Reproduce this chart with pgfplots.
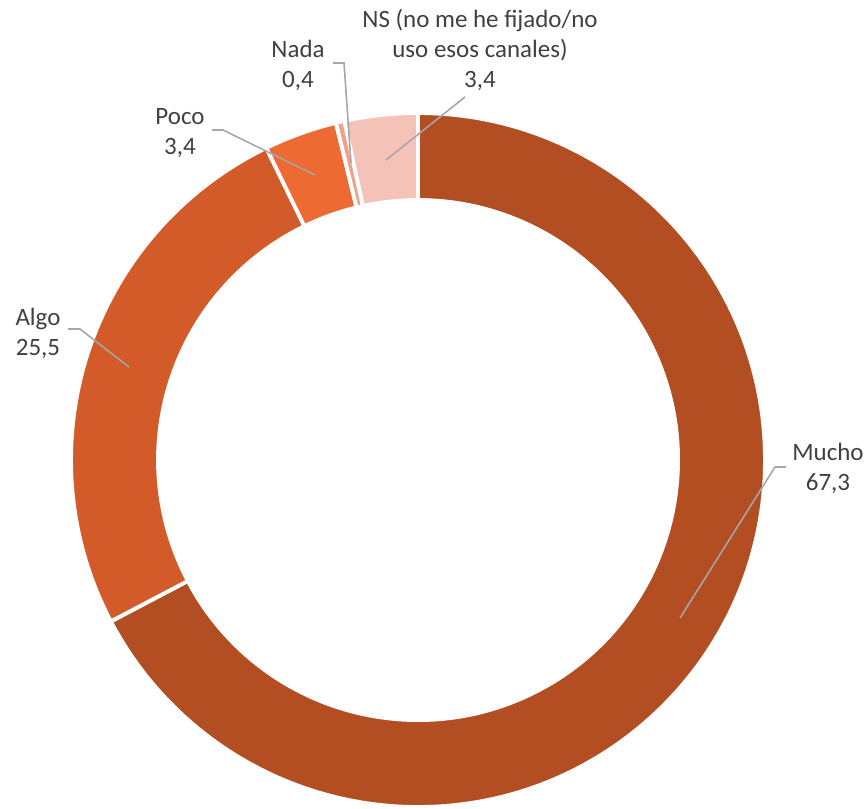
\documentclass[border=0pt]{standalone}
\usepackage{pgfplots}
\pgfplotsset{compat=1.18}
\usepackage{fontspec}
\setmainfont{Carlito}
\definecolor{cMucho}{HTML}{B24E22}
\definecolor{cAlgo}{HTML}{D35A29}
\definecolor{cPoco}{HTML}{ED6A33}
\definecolor{cNada}{HTML}{F2A08A}
\definecolor{cNS}{HTML}{F5C2B8}
\definecolor{txt}{HTML}{404040}
\definecolor{lead}{HTML}{A6A6A6}
\pgfplotsset{base/.style={width=8.66cm,height=8.04cm,scale only axis,
  xmin=0,xmax=866,ymin=0,ymax=804,hide axis,clip=false}}
\begin{document}
\begin{tikzpicture}
\begin{axis}[base]
\coordinate (C) at (axis cs:418,344);
\path (axis cs:0,0) rectangle (axis cs:866,804);
\end{axis}
% donut slices from data (percent), clockwise from 12 o'clock
\begin{scope}[shift={(C)}]
\gdef\angA{90}
\foreach \v/\c in {67.3/cMucho,25.5/cAlgo,3.4/cPoco,0.4/cNada,3.4/cNS}{
  \pgfmathsetmacro\angB{\angA-3.6*\v}
  \fill[\c, draw=white, line width=1.1pt, line join=miter]
    (\angA:3.47cm) arc[start angle=\angA, end angle=\angB, radius=3.47cm]
    -- (\angB:2.60cm) arc[start angle=\angB, end angle=\angA, radius=2.60cm] -- cycle;
  \xdef\angA{\angB}
}
\end{scope}
\begin{axis}[base]
\addplot[lead, line width=0.45pt, mark=none] coordinates {(786,337) (775,337) (680,186)};
\addplot[lead, line width=0.45pt, mark=none] coordinates {(68,475) (80,475) (129,437)};
\addplot[lead, line width=0.45pt, mark=none] coordinates {(212,674) (223,674) (315,629)};
\addplot[lead, line width=0.45pt, mark=none] coordinates {(333,741) (344,741) (351,641)};
\addplot[lead, line width=0.45pt, mark=none] coordinates {(465,707) (386,644)};
\begin{scope}[every node/.style={text=txt, font=\fontsize{7.1pt}{8.5pt}\selectfont, align=center, inner sep=0pt}]
\node at (axis cs:828,336) {Mucho\\67,3};
\node at (axis cs:38,471) {Algo\\25,5};
\node at (axis cs:180,671) {Poco\\3,4};
\node at (axis cs:298,739) {Nada\\0,4};
\node at (axis cs:480,754) {NS (no me he fijado/no\\uso esos canales)\\3,4};
\end{scope}
\end{axis}
\end{tikzpicture}
\end{document}
